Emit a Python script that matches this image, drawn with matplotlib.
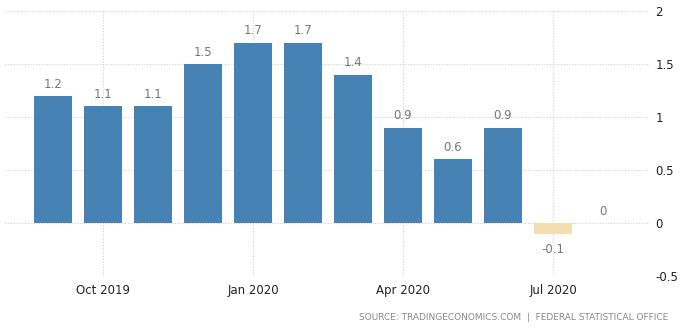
import numpy as np
import matplotlib.pyplot as plt

# =========================
# Data
# =========================

months = ["Sep 2019", "Oct 2019", "Nov 2019", "Dec 2019", "Jan 2020", "Feb 2020",
          "Mar 2020", "Apr 2020", "May 2020", "Jun 2020", "Jul 2020", "Aug 2020"]
values = [1.2, 1.1, 1.1, 1.5, 1.7, 1.7, 1.4, 0.9, 0.6, 0.9, -0.1, 0.0]
tick_labels = ["Oct 2019", "Jan 2020", "Apr 2020", "Jul 2020"]
y_ticks = [-0.5, 0, 0.5, 1, 1.5, 2]
y_tick_labels = ["-0.5", "0", "0.5", "1", "1.5", "2"]
source_text = "SOURCE: TRADINGECONOMICS.COM  |  FEDERAL STATISTICAL OFFICE"

pos_color = "#4682b4"
neg_color = "#f2deb0"
grid_color = "#d0d0d0"

# =========================
# Figure
# =========================

fig = plt.figure(figsize=(6.84, 3.29), dpi=100)
ax = fig.add_axes([5 / 684, (329 - 276) / 329, (650 - 5) / 684, (276 - 11) / 329])

x = np.arange(len(values))
colors = [neg_color if v < 0 else pos_color for v in values]
ax.bar(x, values, width=0.76, color=colors, zorder=2)

for xi, v in zip(x, values):
    label = "0" if v == 0 else f"{v:g}"
    if v < 0:
        ax.text(xi, v - 0.09, label, ha="center", va="top", fontsize=8.5, color="#777777")
    else:
        ax.text(xi, v + 0.05, label, ha="center", va="bottom", fontsize=8.5, color="#777777")

ax.set_xlim(-0.96, 11.94)
ax.set_ylim(-0.5, 2)

tick_pos = [months.index(t) for t in tick_labels]
ax.set_xticks(tick_pos)
ax.set_xticklabels(tick_labels, fontsize=8.5, color="#222222")
ax.set_yticks(y_ticks)
ax.set_yticklabels(y_tick_labels, fontsize=8.5, color="#222222")
ax.yaxis.tick_right()
ax.tick_params(axis="both", length=0)
ax.tick_params(axis="y", pad=4)
ax.tick_params(axis="x", pad=6)

ax.grid(True, color=grid_color, linestyle=(0, (1, 1.5)), linewidth=0.8, zorder=0)
for s in ax.spines.values():
    s.set_visible(False)

fig.text(668 / 684, 1 - 318 / 329, source_text, ha="right", va="center",
         fontsize=6.5, color="#888888")

fig.savefig("out.png", dpi=100)
